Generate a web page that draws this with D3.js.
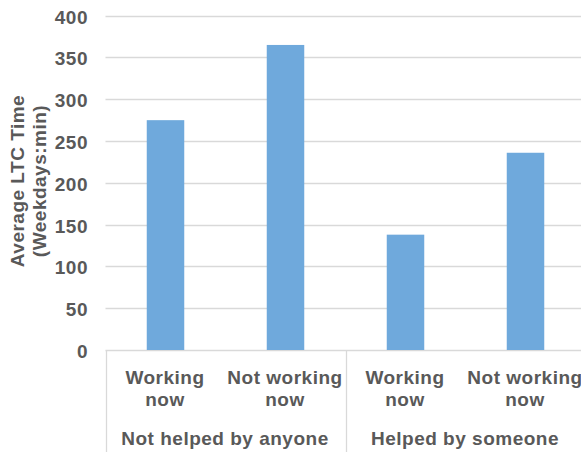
<!DOCTYPE html>
<html>
<head>
<meta charset="utf-8">
<script src="https://cdn.jsdelivr.net/npm/d3@7"></script>
<style>
  html, body { margin: 0; padding: 0; background: #fff; }
  svg { display: block; }
  text { font-family: "Liberation Sans", Arial, sans-serif; font-weight: bold; font-size: 19px; letter-spacing: 0.5px; fill: #595959; }
</style>
</head>
<body>
<svg id="chart" width="581" height="452"></svg>
<script>
// Average long-term-care time on weekdays (minutes)
const subCategories = [["Working", "now"], ["Not working", "now"], ["Working", "now"], ["Not working", "now"]];
const groups = ["Not helped by anyone", "Helped by someone"];
const values = [275, 365, 138, 236];
const yTicks = [0, 50, 100, 150, 200, 250, 300, 350, 400];
const yTitle = ["Average LTC Time", "(Weekdays:min)"];

(function draw() {
  const svg = d3.select("#chart");
  const plotLeft = 105.5, plotRight = 585.5, plotTop = 15.7, plotBottom = 350;
  const gridColor = "#D9D9D9";

  const x = d3.scaleBand()
    .domain(d3.range(values.length))
    .range([plotLeft, plotRight])
    .paddingInner(0.6875)
    .paddingOuter(0.34375);

  const xSlot = d3.scaleBand()
    .domain(d3.range(values.length))
    .range([plotLeft, plotRight]);

  const xGroup = d3.scaleBand()
    .domain(d3.range(groups.length))
    .range([plotLeft, plotRight]);

  const y = d3.scaleLinear().domain([0, 400]).range([plotBottom, plotTop]);

  // Horizontal gridlines
  svg.append("g")
    .selectAll("line")
    .data(yTicks)
    .join("line")
    .attr("x1", plotLeft).attr("x2", plotRight)
    .attr("y1", d => Math.round(y(d)) + 0.5).attr("y2", d => Math.round(y(d)) + 0.5)
    .attr("stroke", gridColor).attr("stroke-width", 1.3);

  // Y axis labels
  const yAxis = d3.axisLeft(y).tickValues(yTicks).tickSize(0).tickPadding(0);
  const yg = svg.append("g").attr("transform", "translate(88,0)").call(yAxis);
  yg.select(".domain").remove();
  yg.selectAll("text")
    .attr("dy", null)
    .attr("dominant-baseline", "central")
    .attr("y", 1)
    .attr("fill", "#595959")
    .style("font-family", "'Liberation Sans', Arial, sans-serif")
    .style("font-weight", "bold")
    .style("font-size", "19px")
    .style("letter-spacing", "0.5px");

  // Bars
  svg.append("g")
    .selectAll("rect")
    .data(values)
    .join("rect")
    .attr("x", (d, i) => x(i))
    .attr("width", x.bandwidth())
    .attr("y", d => y(d))
    .attr("height", d => y(0) - y(d))
    .attr("fill", "#6FA9DC");

  // Group separators below the axis
  const seps = d3.range(groups.length + 1).map(i => i === groups.length ? plotRight : xGroup(i));
  svg.append("g")
    .selectAll("line")
    .data(seps)
    .join("line")
    .attr("x1", d => Math.round(d) + 0.5).attr("x2", d => Math.round(d) + 0.5)
    .attr("y1", plotBottom).attr("y2", 452)
    .attr("stroke", gridColor).attr("stroke-width", 1.3);

  // Sub-category labels (two lines)
  svg.append("g")
    .selectAll("text")
    .data(subCategories)
    .join("text")
    .attr("text-anchor", "middle")
    .each(function(lines, i) {
      const cx = xSlot(i) + xSlot.bandwidth() / 2 - 0.5;
      d3.select(this).selectAll("tspan")
        .data(lines)
        .join("tspan")
        .attr("x", cx)
        .attr("y", (d, j) => 383.5 + j * 22.4)
        .text(d => d);
    });

  // Group labels
  svg.append("g")
    .selectAll("text")
    .data(groups)
    .join("text")
    .attr("text-anchor", "middle")
    .attr("x", (d, i) => xGroup(i) + xGroup.bandwidth() / 2 - 0.5)
    .attr("y", 444.5)
    .text(d => d);

  // Y axis title
  svg.append("text")
    .attr("transform", "rotate(-90)")
    .attr("text-anchor", "middle")
    .selectAll("tspan")
    .data(yTitle)
    .join("tspan")
    .attr("x", -181)
    .attr("y", (d, i) => 24 + i * 22.4)
    .text(d => d);
})();
</script>
</body>
</html>
